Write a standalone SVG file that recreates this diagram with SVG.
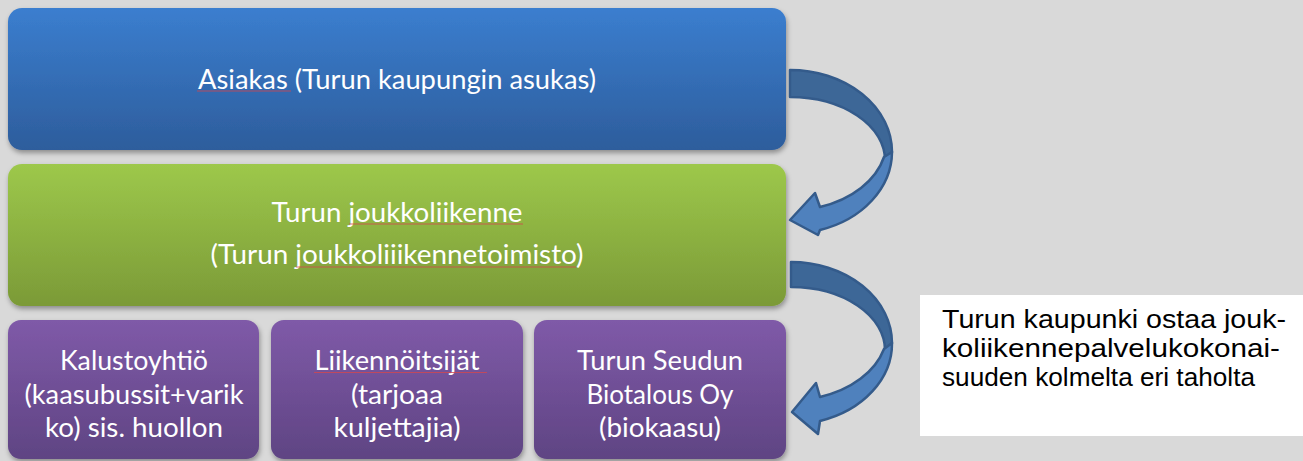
<svg xmlns="http://www.w3.org/2000/svg" width="1303" height="461" viewBox="0 0 1303 461">
<defs>
<linearGradient id="gBlue" x1="0" y1="0" x2="0" y2="1"><stop offset="0" stop-color="#3b7ecf"/><stop offset="1" stop-color="#2d5d9c"/></linearGradient>
<linearGradient id="gGreen" x1="0" y1="0" x2="0" y2="1"><stop offset="0" stop-color="#9dc84b"/><stop offset="1" stop-color="#7b9a37"/></linearGradient>
<linearGradient id="gPurple" x1="0" y1="0" x2="0" y2="1"><stop offset="0" stop-color="#7f5aa8"/><stop offset="1" stop-color="#5f4483"/></linearGradient>
<filter id="sh" x="-5%" y="-10%" width="110%" height="130%"><feDropShadow dx="1" dy="3" stdDeviation="2.5" flood-color="#000" flood-opacity="0.35"/></filter>
<style>
.lbl{font-family:Lato,"Open Sans",sans-serif;font-size:26px;fill:#ffffff;text-anchor:middle}
.note{font-family:"Liberation Sans",Arial,sans-serif;font-size:26px;fill:#000000}
.back{fill:#3d6797;stroke:#345b8b;stroke-width:2.5;stroke-linejoin:round}
.front{fill:#4f81bd;stroke:#345b8b;stroke-width:2.5;stroke-linejoin:round}
.spell{stroke:#d2474f;stroke-width:1;fill:none;opacity:0.8}
</style>
</defs>
<rect x="0" y="0" width="1303" height="461" fill="#d9d9d9"/>

<g id="node-asiakas">
<rect x="8" y="8" width="778" height="142" rx="14" fill="url(#gBlue)" filter="url(#sh)"/>
<text class="lbl" x="397" y="89" textLength="398" lengthAdjust="spacingAndGlyphs">Asiakas (Turun kaupungin asukas)</text>
</g>

<g id="node-joukkoliikenne">
<rect x="8" y="164" width="778" height="142" rx="14" fill="url(#gGreen)" filter="url(#sh)"/>
<text class="lbl" x="397" y="222" textLength="251" lengthAdjust="spacingAndGlyphs">Turun joukkoliikenne</text>
<text class="lbl" x="397" y="264" textLength="373" lengthAdjust="spacingAndGlyphs">(Turun joukkoliiikennetoimisto)</text>
</g>

<g id="node-kalustoyhtio">
<rect x="8" y="320" width="251" height="139" rx="13" fill="url(#gPurple)" filter="url(#sh)"/>
<text class="lbl" x="134" y="370" textLength="148" lengthAdjust="spacingAndGlyphs">Kalustoyhtiö</text>
<text class="lbl" x="134" y="404" textLength="219" lengthAdjust="spacingAndGlyphs">(kaasubussit+varik</text>
<text class="lbl" x="134" y="437" textLength="178" lengthAdjust="spacingAndGlyphs">ko) sis. huollon</text>
</g>

<g id="node-liikennoitsijat">
<rect x="271" y="320" width="252" height="139" rx="13" fill="url(#gPurple)" filter="url(#sh)"/>
<text class="lbl" x="397" y="370" textLength="165" lengthAdjust="spacingAndGlyphs">Liikennöitsijät</text>
<text class="lbl" x="397" y="404" textLength="92" lengthAdjust="spacingAndGlyphs">(tarjoaa</text>
<text class="lbl" x="397" y="437" textLength="127" lengthAdjust="spacingAndGlyphs">kuljettajia)</text>
</g>

<g id="node-biotalous">
<rect x="534" y="320" width="252" height="139" rx="13" fill="url(#gPurple)" filter="url(#sh)"/>
<text class="lbl" x="660" y="370" textLength="166" lengthAdjust="spacingAndGlyphs">Turun Seudun</text>
<text class="lbl" x="660" y="404" textLength="147" lengthAdjust="spacingAndGlyphs">Biotalous Oy</text>
<text class="lbl" x="660" y="437" textLength="122" lengthAdjust="spacingAndGlyphs">(biokaasu)</text>
</g>

<g id="spellcheck-marks">
<line class="spell" x1="197" y1="91" x2="291" y2="91"/>
<line class="spell" x1="349" y1="224" x2="523" y2="224"/>
<line class="spell" x1="296" y1="267" x2="576" y2="267"/>
<line class="spell" x1="314" y1="372.5" x2="487" y2="372.5"/>
</g>

<g id="connectors">
<g id="arrow-1">
<path class="back" d="M790,70 A102,82 0 0 1 892,152 L885,160 A95,63 0 0 0 790,97 Z"/>
<path class="front" d="M892,152 A102,82 0 0 1 820,230 L818,235 L790,220 L815,193 L820,207 A97,70 0 0 0 884,157 Z"/>
</g>
<g id="arrow-2">
<path class="back" d="M791,262 A101,81 0 0 1 892,343 L885,350 A94,63 0 0 0 791,287 Z"/>
<path class="front" d="M892,343 A102,81 0 0 1 820,421 L818,434 L792,412 L816,383 L820,397 A97,70 0 0 0 884,349 Z"/>
</g>
</g>

<g id="node-note">
<rect x="920" y="295" width="383" height="141" fill="#ffffff"/>
<text class="note" x="942" y="328" textLength="344" lengthAdjust="spacingAndGlyphs">Turun kaupunki ostaa jouk-</text>
<text class="note" x="942" y="357" textLength="338" lengthAdjust="spacingAndGlyphs">koliikennepalvelukokonai-</text>
<text class="note" x="942" y="386" textLength="313" lengthAdjust="spacingAndGlyphs">suuden kolmelta eri taholta</text>
</g>
</svg>
